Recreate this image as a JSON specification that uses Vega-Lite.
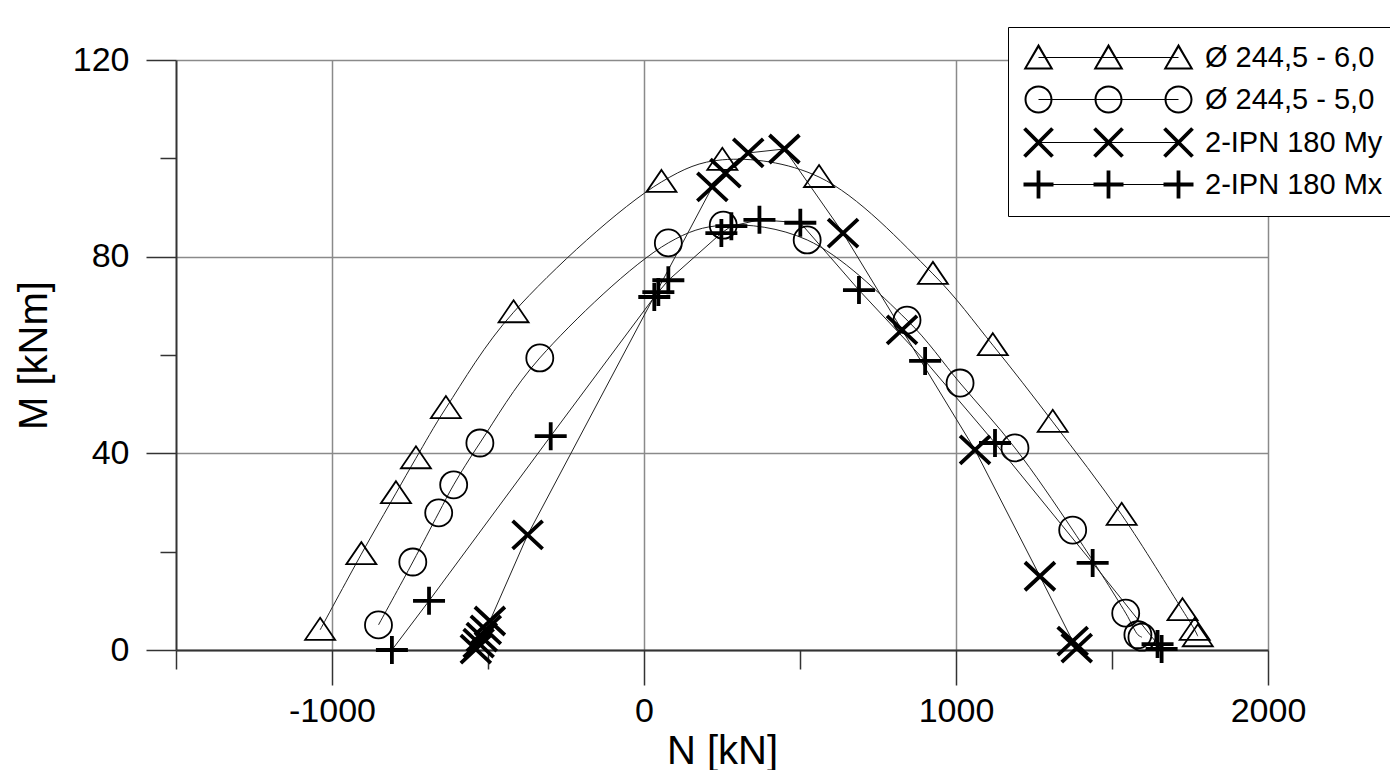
{
  "$schema": "https://vega.github.io/schema/vega-lite/v6.json",
  "width": 1092,
  "height": 590,
  "autosize": {"type": "none"},
  "padding": {"left": 176, "top": 60, "right": 122, "bottom": 120},
  "background": "white",
  "config": {
    "font": "Liberation Sans",
    "view": {"stroke": null},
    "axis": {"labelColor": "black", "titleColor": "black", "titleFontWeight": "normal", "labelFlush": false, "labelOverlap": false, "tickColor": "#333333", "tickWidth": 1.5, "domainColor": "#333333", "domainWidth": 2, "gridColor": "#8a8a8a", "gridWidth": 1.5}
  },
  "data": {
    "values": [
      {"s": "Ø 244,5 - 6,0", "N": -1038, "M": 4.1},
      {"s": "Ø 244,5 - 6,0", "N": -906, "M": 19.5},
      {"s": "Ø 244,5 - 6,0", "N": -795, "M": 31.9},
      {"s": "Ø 244,5 - 6,0", "N": -731, "M": 39.0},
      {"s": "Ø 244,5 - 6,0", "N": -635, "M": 49.2},
      {"s": "Ø 244,5 - 6,0", "N": -418, "M": 68.7},
      {"s": "Ø 244,5 - 6,0", "N": 56, "M": 95.2},
      {"s": "Ø 244,5 - 6,0", "N": 251, "M": 99.7},
      {"s": "Ø 244,5 - 6,0", "N": 561, "M": 96.2},
      {"s": "Ø 244,5 - 6,0", "N": 926, "M": 76.5},
      {"s": "Ø 244,5 - 6,0", "N": 1118, "M": 62.0},
      {"s": "Ø 244,5 - 6,0", "N": 1310, "M": 46.4},
      {"s": "Ø 244,5 - 6,0", "N": 1531, "M": 27.5},
      {"s": "Ø 244,5 - 6,0", "N": 1726, "M": 8.1},
      {"s": "Ø 244,5 - 6,0", "N": 1765, "M": 4.1},
      {"s": "Ø 244,5 - 6,0", "N": 1775, "M": 2.8},
      {"s": "Ø 244,5 - 5,0", "N": -851, "M": 5.1},
      {"s": "Ø 244,5 - 5,0", "N": -741, "M": 17.9},
      {"s": "Ø 244,5 - 5,0", "N": -658, "M": 27.9},
      {"s": "Ø 244,5 - 5,0", "N": -610, "M": 33.6},
      {"s": "Ø 244,5 - 5,0", "N": -526, "M": 42.1},
      {"s": "Ø 244,5 - 5,0", "N": -334, "M": 59.4},
      {"s": "Ø 244,5 - 5,0", "N": 78, "M": 82.8},
      {"s": "Ø 244,5 - 5,0", "N": 254, "M": 86.4},
      {"s": "Ø 244,5 - 5,0", "N": 523, "M": 83.4},
      {"s": "Ø 244,5 - 5,0", "N": 843, "M": 67.1},
      {"s": "Ø 244,5 - 5,0", "N": 1013, "M": 54.3},
      {"s": "Ø 244,5 - 5,0", "N": 1189, "M": 41.1},
      {"s": "Ø 244,5 - 5,0", "N": 1374, "M": 24.4},
      {"s": "Ø 244,5 - 5,0", "N": 1544, "M": 7.5},
      {"s": "Ø 244,5 - 5,0", "N": 1583, "M": 3.1},
      {"s": "Ø 244,5 - 5,0", "N": 1596, "M": 2.6},
      {"s": "2-IPN 180 My", "N": -539, "M": 0.2},
      {"s": "2-IPN 180 My", "N": -530, "M": 1.4},
      {"s": "2-IPN 180 My", "N": -520, "M": 2.6},
      {"s": "2-IPN 180 My", "N": -507, "M": 4.1},
      {"s": "2-IPN 180 My", "N": -494, "M": 5.9},
      {"s": "2-IPN 180 My", "N": -373, "M": 23.4},
      {"s": "2-IPN 180 My", "N": 219, "M": 94.2},
      {"s": "2-IPN 180 My", "N": 261, "M": 97.0},
      {"s": "2-IPN 180 My", "N": 334, "M": 101.1},
      {"s": "2-IPN 180 My", "N": 450, "M": 101.9},
      {"s": "2-IPN 180 My", "N": 638, "M": 84.8},
      {"s": "2-IPN 180 My", "N": 827, "M": 65.1},
      {"s": "2-IPN 180 My", "N": 1061, "M": 40.7},
      {"s": "2-IPN 180 My", "N": 1269, "M": 15.0},
      {"s": "2-IPN 180 My", "N": 1374, "M": 1.8},
      {"s": "2-IPN 180 My", "N": 1387, "M": 0.4},
      {"s": "2-IPN 180 Mx", "N": -808, "M": 0.0},
      {"s": "2-IPN 180 Mx", "N": -689, "M": 10.0},
      {"s": "2-IPN 180 Mx", "N": -299, "M": 43.5},
      {"s": "2-IPN 180 Mx", "N": 33, "M": 71.8},
      {"s": "2-IPN 180 Mx", "N": 46, "M": 72.8},
      {"s": "2-IPN 180 Mx", "N": 78, "M": 75.2},
      {"s": "2-IPN 180 Mx", "N": 248, "M": 84.8},
      {"s": "2-IPN 180 Mx", "N": 280, "M": 86.2},
      {"s": "2-IPN 180 Mx", "N": 370, "M": 87.5},
      {"s": "2-IPN 180 Mx", "N": 501, "M": 86.9},
      {"s": "2-IPN 180 Mx", "N": 689, "M": 73.2},
      {"s": "2-IPN 180 Mx", "N": 901, "M": 58.8},
      {"s": "2-IPN 180 Mx", "N": 1125, "M": 42.1},
      {"s": "2-IPN 180 Mx", "N": 1438, "M": 17.7},
      {"s": "2-IPN 180 Mx", "N": 1646, "M": 1.2},
      {"s": "2-IPN 180 Mx", "N": 1659, "M": 0.2}
    ]
  },
  "layer": [
    {
      "transform": [{"filter": {"field": "s", "oneOf": ["Ø 244,5 - 6,0", "Ø 244,5 - 5,0"]}}],
      "mark": {"type": "line", "interpolate": "catmull-rom", "color": "#222222", "strokeWidth": 1},
      "encoding": {
        "x": {"field": "N", "type": "quantitative", "scale": {"domain": [-1500, 2000], "nice": false, "zero": false},
          "axis": {"orient": "bottom", "values": [-1000, 0, 1000, 2000], "labelExpr": "datum.value + ''", "title": "N [kN]", "grid": true, "tickSize": 35, "labelFontSize": 34, "labelPadding": 9, "titleFontSize": 40, "titlePadding": 3}},
        "y": {"field": "M", "type": "quantitative", "scale": {"domain": [0, 120], "nice": false, "zero": false},
          "axis": {"orient": "left", "values": [0, 40, 80, 120], "labelExpr": "datum.value + ''", "title": "M [kNm]", "grid": true, "tickSize": 30, "labelFontSize": 34, "labelPadding": 17, "titleFontSize": 40, "titlePadding": 18}},
        "detail": {"field": "s"}
      }
    },
    {
      "transform": [{"filter": {"field": "s", "oneOf": ["2-IPN 180 My", "2-IPN 180 Mx"]}}],
      "mark": {"type": "line", "interpolate": "linear", "color": "#222222", "strokeWidth": 1},
      "encoding": {
        "x": {"field": "N", "type": "quantitative", "scale": {"domain": [-1500, 2000], "nice": false, "zero": false},
          "axis": {"orient": "bottom", "values": [-1500, -500, 500, 1500], "labels": false, "domain": false, "grid": false, "tickSize": 19, "title": null}},
        "y": {"field": "M", "type": "quantitative", "scale": {"domain": [0, 120], "nice": false, "zero": false},
          "axis": {"orient": "left", "values": [20, 60, 100], "labels": false, "domain": false, "grid": false, "tickSize": 16, "title": null}},
        "detail": {"field": "s"}
      }
    },
    {
      "transform": [{"filter": {"field": "s", "oneOf": ["Ø 244,5 - 6,0", "Ø 244,5 - 5,0"]}}],
      "mark": {"type": "point", "filled": false, "color": "black", "opacity": 1, "size": 4, "strokeWidth": 1.8},
      "encoding": {
        "x": {"field": "N", "type": "quantitative", "scale": {"domain": [-1500, 2000], "nice": false, "zero": false}, "axis": null},
        "y": {"field": "M", "type": "quantitative", "scale": {"domain": [0, 120], "nice": false, "zero": false}, "axis": null},
        "shape": {"field": "s", "type": "nominal", "legend": null, "scale": {
          "domain": ["Ø 244,5 - 6,0", "Ø 244,5 - 5,0"],
          "range": ["M0,-12L15,10L-15,10Z", "M-13.5,0A13.5,13.5 0 1,1 13.5,0A13.5,13.5 0 1,1 -13.5,0Z"]}}
      }
    },
    {
      "transform": [{"filter": {"field": "s", "oneOf": ["2-IPN 180 My", "2-IPN 180 Mx"]}}],
      "mark": {"type": "point", "filled": false, "color": "black", "opacity": 1, "size": 4, "strokeWidth": 3.8},
      "encoding": {
        "x": {"field": "N", "type": "quantitative", "scale": {"domain": [-1500, 2000], "nice": false, "zero": false}, "axis": null},
        "y": {"field": "M", "type": "quantitative", "scale": {"domain": [0, 120], "nice": false, "zero": false}, "axis": null},
        "shape": {"field": "s", "type": "nominal", "legend": null, "scale": {
          "domain": ["2-IPN 180 My", "2-IPN 180 Mx"],
          "range": ["M-15,-14L15,14M-15,14L15,-14", "M-16,0H16M0,-14V14"]}}
      }
    },
    {
      "mark": {"type": "point", "filled": true, "color": "black", "size": 0},
      "encoding": {
        "x": {"field": "N", "type": "quantitative", "scale": {"domain": [-1500, 2000], "nice": false, "zero": false}, "axis": null},
        "y": {"field": "M", "type": "quantitative", "scale": {"domain": [0, 120], "nice": false, "zero": false}, "axis": null},
        "shape": {"field": "s", "type": "nominal", "scale": {
          "domain": ["Ø 244,5 - 6,0", "Ø 244,5 - 5,0", "2-IPN 180 My", "2-IPN 180 Mx"],
          "range": [
            "M0,-14L15,12L-15,12ZM0,-9.6L-11.6,10L11.6,10ZM70,-14L85,12L55,12ZM70,-9.6L58.4,10L81.6,10ZM140,-14L155,12L125,12ZM140,-9.6L128.4,10L151.6,10ZM0,-0.55H140V0.55H0Z",
            "M-14,0A14,14 0 1,1 14,0A14,14 0 1,1 -14,0ZM-12,0A12,12 0 1,0 12,0A12,12 0 1,0 -12,0ZM56,0A14,14 0 1,1 84,0A14,14 0 1,1 56,0ZM58,0A12,12 0 1,0 82,0A12,12 0 1,0 58,0ZM126,0A14,14 0 1,1 154,0A14,14 0 1,1 126,0ZM128,0A12,12 0 1,0 152,0A12,12 0 1,0 128,0ZM0,-0.55H140V0.55H0Z",
            "M-12.65,-15.35L15.35,12.65L12.65,15.35L-15.35,-12.65ZM-12.65,15.35L-15.35,12.65L12.65,-15.35L15.35,-12.65ZM57.35,-15.35L85.35,12.65L82.65,15.35L54.65,-12.65ZM57.35,15.35L54.65,12.65L82.65,-15.35L85.35,-12.65ZM127.35,-15.35L155.35,12.65L152.65,15.35L124.65,-12.65ZM127.35,15.35L124.65,12.65L152.65,-15.35L155.35,-12.65ZM0,-0.55H140V0.55H0Z",
            "M-15,-1.9H15V1.9H-15ZM-1.9,-14H1.9V14H-1.9ZM55,-1.9H85V1.9H55ZM68.1,-14H71.9V14H68.1ZM125,-1.9H155V1.9H125ZM138.1,-14H141.9V14H138.1ZM0,-0.55H140V0.55H0Z"
          ]},
          "legend": {"title": null, "orient": "none", "legendX": 832, "legendY": -33, "symbolSize": 4, "symbolOpacity": 1, "symbolFillColor": "black", "symbolStrokeWidth": 0, "labelFontSize": 29, "labelColor": "black", "labelOffset": 152, "rowPadding": 12, "padding": 16, "strokeColor": "black", "fillColor": "white", "cornerRadius": 0, "labelLimit": 400}}
      }
    }
  ],
  "resolve": {"axis": {"x": "independent", "y": "independent"}, "scale": {"shape": "independent"}}
}
